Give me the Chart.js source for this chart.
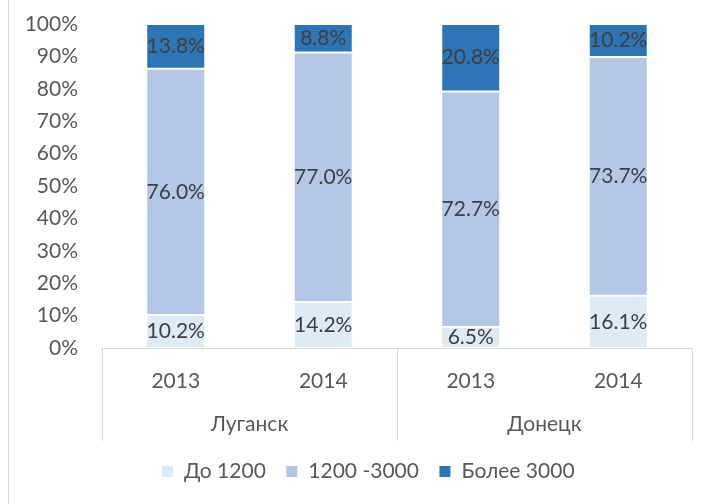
<!DOCTYPE html>
<html>
<head>
<meta charset="utf-8">
<script src="https://cdn.jsdelivr.net/npm/chart.js@4/dist/chart.umd.min.js"></script>
<style>
  html, body { margin: 0; padding: 0; background: #fff; }
  #wrap { width: 712px; height: 504px; position: relative; }
</style>
</head>
<body>
<div id="wrap"><canvas id="chart" width="712" height="504"></canvas></div>
<script>
// Доля по уровням дохода, % (стек до 100)
const years = ['2013', '2014', '2013', '2014'];
const cities = ['Луганск', 'Донецк'];
const seriesNames = ['До 1200', '1200 -3000', 'Более 3000'];
const upTo1200 = [10.2, 14.2, 6.5, 16.1];
const from1200to3000 = [76.0, 77.0, 72.7, 73.7];
const over3000 = [13.8, 8.8, 20.8, 10.2];
const yTicks = [0, 10, 20, 30, 40, 50, 60, 70, 80, 90, 100];

const colors = ['#DEEBF7', '#B4C7E7', '#2E75B6'];
const FONT = 'Lato, "Open Sans", sans-serif';

// подписи значений в центре каждого сегмента
const valueLabels = {
  id: 'valueLabels',
  afterDatasetsDraw(chart) {
    const ctx = chart.ctx;
    ctx.save();
    ctx.font = '21px ' + FONT;
    ctx.fillStyle = '#404040';
    ctx.textAlign = 'center';
    ctx.textBaseline = 'middle';
    chart.data.datasets.forEach((ds, i) => {
      chart.getDatasetMeta(i).data.forEach((bar, j) => {
        const y = (bar.y + bar.base) / 2;
        ctx.fillText(ds.data[j].toFixed(1) + '%', bar.x, y);
      });
    });
    ctx.restore();
  },
};

// второй уровень оси: города и разделители
const groupAxis = {
  id: 'groupAxis',
  afterLayout(chart) {
    // легенда в Excel центрирована чуть правее
    if (chart.legend) chart.legend.left += 44;
  },
  afterDraw(chart) {
    const ctx = chart.ctx;
    const x = chart.scales.x;
    const half = (x.getPixelForValue(1) - x.getPixelForValue(0)) / 2;
    const top = x.top;
    ctx.save();
    ctx.strokeStyle = '#D9D9D9';
    ctx.lineWidth = 1;
    const edges = [
      x.getPixelForValue(0) - half,
      x.getPixelForValue(1) + half,
      x.getPixelForValue(3) + half,
    ];
    edges.forEach((px) => {
      const p = Math.round(px) + 0.5;
      ctx.beginPath();
      ctx.moveTo(p, top);
      ctx.lineTo(p, top + 93);
      ctx.stroke();
    });
    ctx.font = '21px ' + FONT;
    ctx.fillStyle = '#595959';
    ctx.textAlign = 'center';
    ctx.textBaseline = 'middle';
    cities.forEach((c, k) => {
      const cx = (x.getPixelForValue(k * 2) + x.getPixelForValue(k * 2 + 1)) / 2;
      ctx.fillText(c, cx, top + 76);
    });
    // рамка области диаграммы слева
    ctx.beginPath();
    ctx.moveTo(8.5, 0);
    ctx.lineTo(8.5, 504);
    ctx.stroke();
    ctx.restore();
  },
};

new Chart(document.getElementById('chart'), {
  type: 'bar',
  data: {
    labels: years,
    datasets: [
      { label: seriesNames[0], data: upTo1200, backgroundColor: colors[0] },
      { label: seriesNames[1], data: from1200to3000, backgroundColor: colors[1] },
      { label: seriesNames[2], data: over3000, backgroundColor: colors[2] },
    ].map((d) => ({ ...d, borderColor: '#ffffff', borderWidth: 1, borderSkipped: false })),
  },
  options: {
    responsive: false,
    animation: false,
    layout: { padding: { top: 24, right: 20, bottom: 12, left: 0 } },
    datasets: { bar: { categoryPercentage: 1, barPercentage: 0.4 } },
    scales: {
      x: {
        stacked: true,
        grid: { display: false, drawTicks: false },
        border: { display: true, color: '#D9D9D9' },
        ticks: { color: '#595959', font: { family: FONT, size: 21 }, padding: 21, maxRotation: 0 },
        afterFit(scale) { scale.height = 93; },
      },
      y: {
        stacked: true,
        min: 0,
        max: 100,
        afterBuildTicks(scale) { scale.ticks = yTicks.map((v) => ({ value: v })); },
        grid: { display: false, drawTicks: false },
        border: { display: false },
        ticks: {
          color: '#595959',
          font: { family: FONT, size: 21 },
          padding: 24,
          callback: (v) => v + '%',
        },
        afterFit(scale) {
          scale.width = 102;
          scale.paddingTop = 0;
          scale.paddingBottom = 0;
        },
      },
    },
    plugins: {
      legend: {
        position: 'bottom',
        labels: {
          color: '#595959',
          font: { family: FONT, size: 21 },
          boxWidth: 12,
          boxHeight: 12,
          padding: 20,
        },
      },
      tooltip: { enabled: false },
    },
  },
  plugins: [valueLabels, groupAxis],
});
</script>
</body>
</html>
